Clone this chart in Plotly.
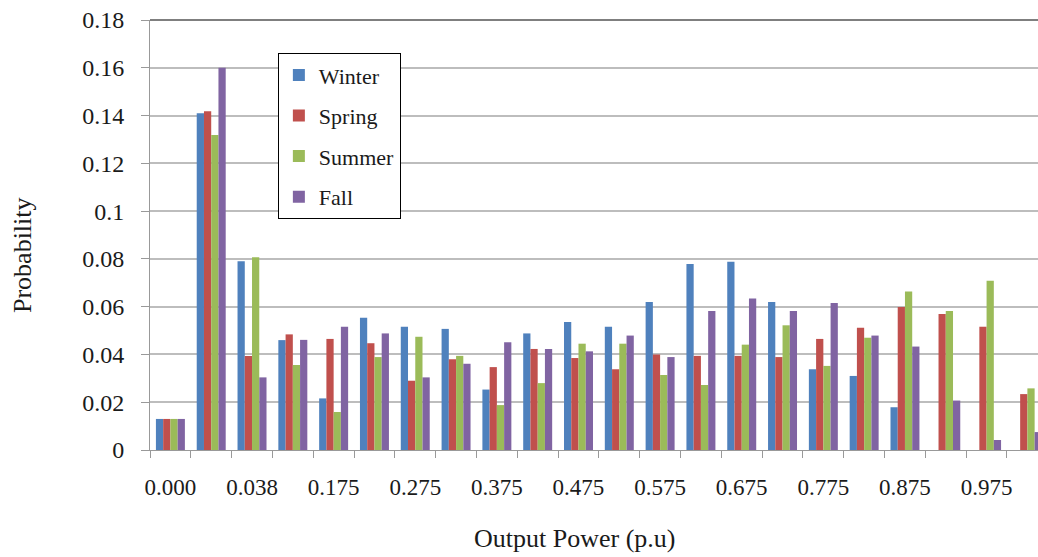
import plotly.graph_objects as go

bins = ["0.000", "0.013", "0.038", "0.125", "0.175", "0.225", "0.275", "0.325",
        "0.375", "0.425", "0.475", "0.525", "0.575", "0.625", "0.675", "0.725",
        "0.775", "0.825", "0.875", "0.925", "0.975", "1.000"]

winter = [0.013, 0.141, 0.079, 0.046, 0.0216, 0.0554, 0.0516, 0.0507, 0.0253, 0.0488, 0.0536,
          0.0516, 0.062, 0.0779, 0.0788, 0.062, 0.0338, 0.031, 0.0179, 0.0, 0.0, 0.0]
spring = [0.013, 0.1418, 0.0394, 0.0484, 0.0465, 0.0447, 0.029, 0.038, 0.0347, 0.0423, 0.0385,
          0.0338, 0.040, 0.0394, 0.0394, 0.0389, 0.0465, 0.0512, 0.0599, 0.0569, 0.0516, 0.0234]
summer = [0.013, 0.1319, 0.0807, 0.0356, 0.0159, 0.0389, 0.0474, 0.0394, 0.0188, 0.028, 0.0445,
          0.0445, 0.0314, 0.0272, 0.0441, 0.0522, 0.0352, 0.047, 0.0663, 0.0582, 0.0709, 0.0258]
fall = [0.013, 0.160, 0.0304, 0.0461, 0.0516, 0.0488, 0.0304, 0.0361, 0.0451, 0.0423, 0.0413,
        0.0479, 0.0389, 0.0582, 0.0634, 0.0582, 0.0615, 0.0479, 0.0433, 0.0207, 0.0042, 0.0075]

series = {"Winter": winter, "Spring": spring, "Summer": summer, "Fall": fall}
colors = {"Winter": "#4F81BD", "Spring": "#C0504D", "Summer": "#9BBB59", "Fall": "#8064A2"}

# every other category label is shown (as in the original chart)
tick_text = [b if i % 2 == 0 else "" for i, b in enumerate(bins)]

FONT = "Liberation Serif, serif"
TXT = "#1a1a1a"

fig = go.Figure()
for name, vals in series.items():
    fig.add_trace(go.Bar(x=bins, y=vals, name=name, legendgroup=name,
                         marker=dict(color=colors[name], line=dict(width=0))))

fig.update_layout(
    width=1038, height=557,
    margin=dict(l=150, r=0, t=20, b=107),
    paper_bgcolor="white", plot_bgcolor="white",
    barmode="group", bargap=0.29, bargroupgap=0,
    font=dict(family=FONT, size=22, color=TXT),
    showlegend=True,
    legend=dict(x=0.144, y=0.923, xanchor="left", yanchor="top",
                bordercolor="black", borderwidth=1, bgcolor="white",
                traceorder="grouped", tracegroupgap=9,
                font=dict(family=FONT, size=22, color=TXT)),
    xaxis=dict(type="category", range=[-0.5, 21.26],
               tickmode="array", tickvals=bins, ticktext=tick_text, tickangle=0,
               tickfont=dict(family=FONT, size=23, color=TXT),
               tickson="boundaries", ticks="outside", ticklen=7, tickcolor="#999999",
               showline=True, linecolor="#999999", linewidth=1,
               showgrid=False, ticklabelstandoff=16),
    yaxis=dict(range=[0, 0.18], dtick=0.02, showgrid=True,
               gridcolor="#bdbdbd", gridwidth=1.5,
               tickfont=dict(family=FONT, size=24, color=TXT),
               ticks="outside", ticklen=8, tickcolor="#999999",
               showline=True, linecolor="#999999", linewidth=1,
               ticklabelstandoff=12, zeroline=False),
    annotations=[
        dict(text="Probability", textangle=-90, xref="paper", yref="paper",
             x=-0.143, y=0.4535, xanchor="center", yanchor="middle", showarrow=False,
             font=dict(family=FONT, size=26, color=TXT)),
        dict(text="Output Power (p.u)", xref="paper", yref="paper",
             x=0.4786, y=-0.205, xanchor="center", yanchor="middle", showarrow=False,
             font=dict(family=FONT, size=26, color=TXT)),
    ],
)
fig.add_shape(type="line", xref="paper", yref="paper", x0=0, x1=1, y0=1, y1=1,
              line=dict(color="#555555", width=1.5))

fig.write_html("out.html")
